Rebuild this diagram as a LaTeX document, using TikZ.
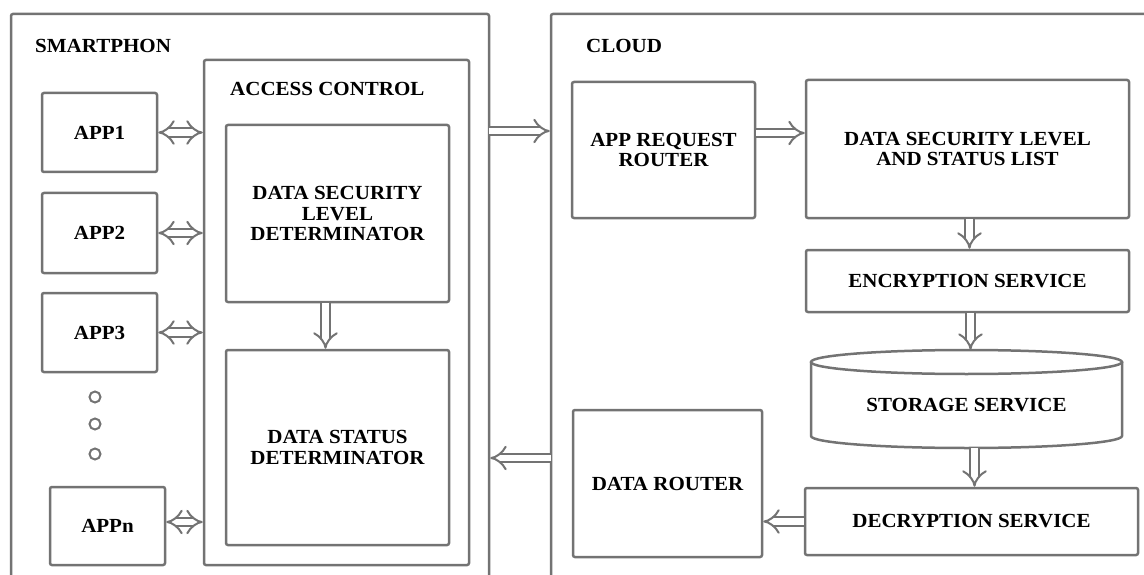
\documentclass[tikz,border=0pt]{standalone}
\usepackage{fontspec}
\setmainfont{Liberation Serif}[FakeStretch=1.05]
\usetikzlibrary{arrows.meta}
\tikzset{
  box/.style={draw=black!55, line width=2.5pt, rounded corners=2pt, inner sep=0pt,
    font=\fontsize{20}{20.5}\selectfont\bfseries, align=center},
  lbl/.style={font=\fontsize{20}{20.5}\selectfont\bfseries, inner sep=0pt, anchor=west},
  darr/.style={draw=black!55, double=white, double distance=6.5pt, line width=2pt, -{Implies}},
  ddarr/.style={draw=black!55, double=white, double distance=6.5pt, line width=2pt, {Implies}-{Implies}},
  dotc/.style={draw=black!55, line width=2pt, circle, minimum size=11pt, inner sep=0pt},
}
\begin{document}
\begin{tikzpicture}[x=1pt,y=-1pt]
\useasboundingbox (0,0) rectangle (1144,575);
\clip (0,0) rectangle (1144,575);
% outer frames
\node[box, minimum width=478pt, minimum height=586pt] (phone) at (250,307) {};
\node[box, minimum width=619pt, minimum height=586pt] (cloud) at (860.5,307) {};
\node[lbl] (phonelbl) at (35,46) {SMARTPHON};
\node[lbl] (cloudlbl) at (586,46) {CLOUD};
% access control
\node[box, minimum width=265pt, minimum height=505pt] (ac) at (336.5,312.5) {};
\node[lbl] (aclbl) at (230,89) {ACCESS CONTROL};
\node[box, minimum width=223pt, minimum height=177pt] (dsld) at (337.5,213.5) {DATA SECURITY\\LEVEL\\DETERMINATOR};
\node[box, minimum width=223pt, minimum height=195pt] (dsd) at (337.5,447.5) {DATA STATUS\\DETERMINATOR};
% apps
\node[box, minimum width=115pt, minimum height=79pt] (app1) at (99.5,132.5) {APP1};
\node[box, minimum width=115pt, minimum height=80pt] (app2) at (99.5,233) {APP2};
\node[box, minimum width=115pt, minimum height=79pt] (app3) at (99.5,332.5) {APP3};
\node[box, minimum width=115pt, minimum height=78pt] (appn) at (107.5,526) {APPn};
\node[dotc] (d1) at (95,397) {};
\node[dotc] (d2) at (95,424) {};
\node[dotc] (d3) at (95,454) {};
% cloud content
\node[box, minimum width=183pt, minimum height=136pt] (arr) at (663.5,150) {APP REQUEST\\ROUTER};
\node[box, minimum width=323pt, minimum height=138pt] (dsl) at (967.5,149) {DATA SECURITY LEVEL\\AND STATUS LIST};
\node[box, minimum width=323pt, minimum height=62pt] (enc) at (967.5,281) {ENCRYPTION SERVICE};
\node[inner sep=0pt, minimum width=311pt, minimum height=98pt] (storage) at (966.5,399) {};
\node[font=\fontsize{20}{20.5}\selectfont\bfseries, inner sep=0pt] (storagelbl) at (966.5,405) {STORAGE SERVICE};
\draw[draw=black!55, line width=2.5pt] (966.5,362) ellipse [x radius=155.5pt, y radius=12pt];
\draw[draw=black!55, line width=2.5pt, line join=round] (811,362) -- (811,436)
  arc[start angle=180, end angle=360, x radius=155.5pt, y radius=12pt] -- (1122,362);
\node[box, minimum width=333pt, minimum height=67pt] (dec) at (971.5,521.5) {DECRYPTION SERVICE};
\node[box, minimum width=189pt, minimum height=147pt] (drouter) at (667.5,483.5) {DATA ROUTER};
% connectors
\draw[ddarr] (app1.east) -- (app1.east -| ac.west);
\draw[ddarr] (app2.east) -- (app2.east -| ac.west);
\draw[ddarr] (app3.east) -- (app3.east -| ac.west);
\draw[ddarr] ([yshift=4pt]appn.east) -- ([yshift=4pt]appn.east -| ac.west);
\draw[darr] ([xshift=-12pt]dsld.south) -- ([xshift=-12pt]dsld.south |- dsd.north);
\coordinate (p2c) at (489,131);
\coordinate (c2p) at (551,458);
\draw[darr] (p2c) -- (p2c -| cloud.west);
\draw[darr] (c2p) -- (c2p -| phone.east);
\draw[darr] ([yshift=17pt]arr.east) -- ([yshift=17pt]arr.east -| dsl.west);
\draw[darr] ([xshift=2pt]dsl.south) -- ([xshift=2pt]dsl.south |- enc.north);
\draw[darr] ([xshift=3pt]enc.south) -- ([xshift=3pt]enc.south |- storage.north);
\draw[darr] ([xshift=8pt]storage.south) -- ([xshift=8pt]storage.south |- dec.north);
\draw[darr] (dec.west) -- (dec.west -| drouter.east);
\end{tikzpicture}
\end{document}
